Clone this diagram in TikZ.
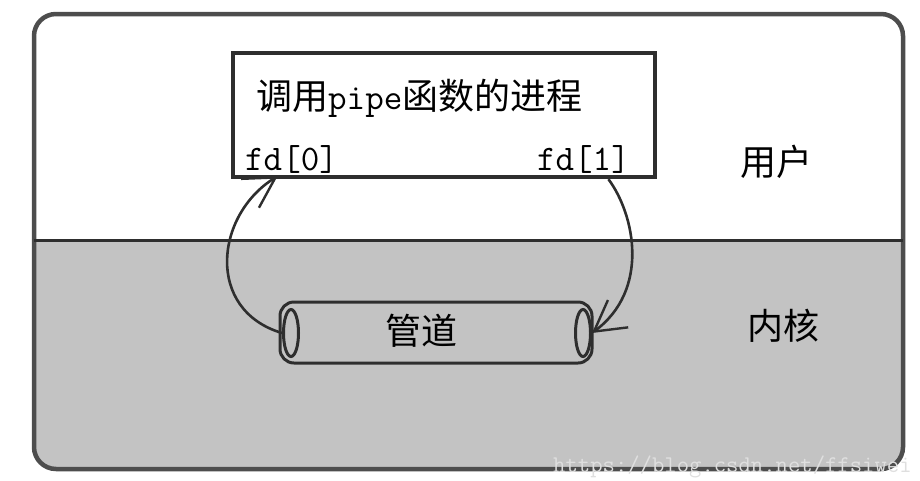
\documentclass[tikz,border=0pt]{standalone}
\usepackage{fontspec}
\newfontfamily\cjk{Noto Sans CJK SC}
\usetikzlibrary{arrows.meta,shapes.geometric}
\definecolor{kernelgray}{HTML}{C3C3C3}
\definecolor{inkgray}{HTML}{2E2E2E}
\begin{document}
\begin{tikzpicture}[x=1pt, y=-1pt,
    ink/.style={draw=inkgray, line width=3pt},
    big/.style={font=\fontsize{36}{40}\selectfont, inner sep=0pt},
    flow/.style={ink, line width=2.6pt, -{Straight Barb[length=30pt, width=34pt, line width=2.4pt]}}]
    \useasboundingbox (0,0) rectangle (920,480);
    % kernel half
    \begin{scope}
        \clip[rounded corners=22pt] (34,14) rectangle (903,469);
        \fill[kernelgray] (0,240) rectangle (920,480);
    \end{scope}
    \draw[ink, draw=inkgray!85, line width=4.5pt, rounded corners=22pt] (34,14) rectangle (903,469);
    \draw[ink, line width=3pt] (34,240) -- (903,240);
    % process
    \node[ink, line width=3.2pt, fill=white, minimum width=422pt, minimum height=124pt, inner sep=0pt] (proc) at (444,115) {};
    \node[big, anchor=base west] (title) at (256,109) {{\cjk 调用}\texttt{pipe}{\cjk 函数的进程}};
    \node[big, anchor=base west, font=\fontsize{36}{40}\selectfont\ttfamily] (fd0) at (245,170) {fd[0]};
    \node[big, anchor=base east, font=\fontsize{36}{40}\selectfont\ttfamily] (fd1) at (630,170) {fd[1]};
    \node[big, anchor=base, font=\fontsize{36}{40}\selectfont\cjk] (user) at (776,175) {用户};
    \node[big, anchor=base, font=\fontsize{36}{40}\selectfont\cjk] (kernel) at (783,339) {内核};
    % pipe
    \node[ink, rounded corners=14pt, minimum width=312pt, minimum height=61pt, inner sep=0pt] (pipe) at (436,332.5) {};
    \node[ink, ellipse, minimum width=15pt, minimum height=47pt, inner sep=0pt] (pipeL) at (291,333) {};
    \node[ink, ellipse, minimum width=15pt, minimum height=47pt, inner sep=0pt] (pipeR) at (583,333) {};
    \node[big, anchor=base, font=\fontsize{36}{40}\selectfont\cjk] (pipename) at (421,344) {管道};
    % read and write ends
    \draw[flow] (pipeL.west) .. controls (205,310) and (215,215) .. ([xshift=-14pt,yshift=-3pt]fd0.south);
    \draw[flow] ([xshift=25pt,yshift=-6pt]fd1.south) .. controls (635,215) and (650,290) .. (pipeR.east);
    \node[anchor=base west, inner sep=0pt, text=gray!25, font=\fontsize{24}{24}\selectfont\ttfamily] (mark) at (553,472) {https://blog.csdn.net/ffsiwei};
\end{tikzpicture}
\end{document}
